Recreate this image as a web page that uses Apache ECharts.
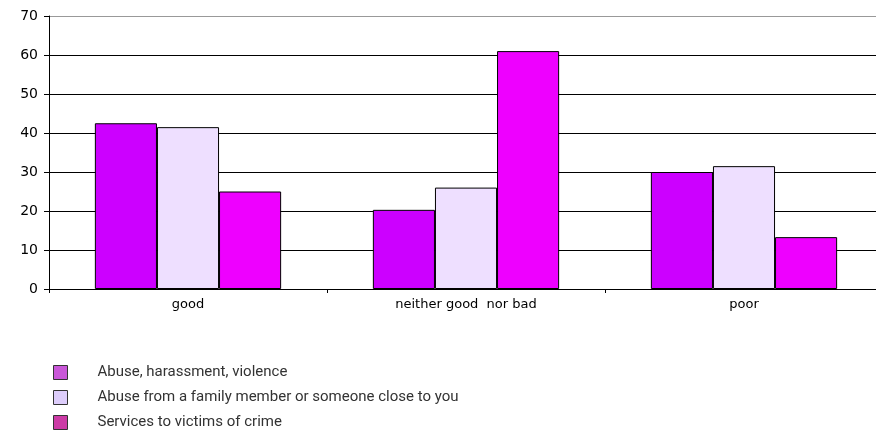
<!DOCTYPE html>
<html><head><meta charset="utf-8">
<script src="https://cdn.jsdelivr.net/npm/echarts@6/dist/echarts.min.js"></script>
<style>html,body{margin:0;padding:0;background:#fff}#c{width:876px;height:448px}</style>
</head><body><div id="c"></div>
<script>
var categories = ['good', 'neither good  nor bad', 'poor'];
var seriesNames = ['Abuse, harassment, violence', 'Abuse from a family member or someone close to you', 'Services to victims of crime'];
var abuseHarassment = [42.5, 20.3, 30];
var abuseFamily = [41.5, 26, 31.5];
var servicesVictims = [25, 61, 13.3];
var yTicks = [0, 10, 20, 30, 40, 50, 60, 70];

var barColors = ['#cc00ff', '#eedfff', '#ee00ff'];
var legendColors = ['#c957d8', '#ddcdfb', '#cc3ba6'];
var values = [abuseHarassment, abuseFamily, servicesVictims];

var chart = echarts.init(document.getElementById('c'));
chart.setOption({
  animation: false,
  grid: {left: 49, width: 834, top: 16, height: 273, outerBoundsMode: 'none', containLabel: false},
  legend: {
    orient: 'vertical', left: 48, top: 360, itemWidth: 14, itemHeight: 14, itemGap: 10,
    icon: 'rect',
    data: seriesNames.map(function(n, i){ return {name: n, itemStyle: {color: legendColors[i], borderColor: '#333', borderWidth: 1}}; }),
    textStyle: {fontFamily: 'Roboto', fontSize: 15, color: '#333', padding: [0, 0, 0, 25]}
  },
  xAxis: {
    type: 'category', data: categories,
    axisLine: {lineStyle: {color: '#000', width: 1}},
    axisTick: {show: true, length: 4, lineStyle: {color: '#000'}},
    axisLabel: {fontFamily: 'DejaVu Sans', fontSize: 13, color: '#000', margin: 9}
  },
  yAxis: {
    type: 'value', min: 0, max: 70, interval: 10,
    axisLine: {show: true, lineStyle: {color: '#000', width: 1}},
    axisTick: {show: true, length: 5, lineStyle: {color: '#000'}},
    axisLabel: {fontFamily: 'DejaVu Sans', fontSize: 14, color: '#000', margin: 11,
      formatter: function(v){ return yTicks.indexOf(v) >= 0 ? String(v) : ''; }},
    splitLine: {show: true, lineStyle: {color: ['#000','#000','#000','#000','#000','#000','#000','#999'], width: 1}}
  },
  series: seriesNames.map(function(n, i){
    return {
      name: n, type: 'bar', data: values[i], barGap: '0%', barCategoryGap: '33%',
      itemStyle: {color: barColors[i], borderColor: '#000', borderWidth: 1}
    };
  })
});
</script></body></html>
